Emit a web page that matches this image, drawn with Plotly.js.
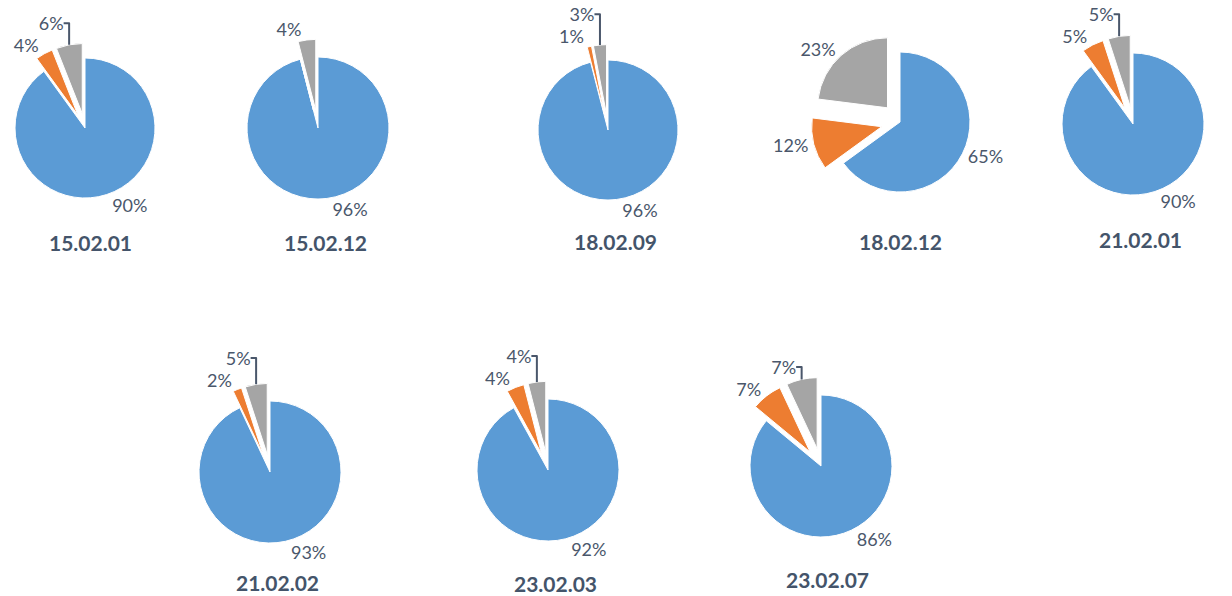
<!DOCTYPE html>
<html>
<head>
<meta charset="utf-8">
<script src="https://cdn.plot.ly/plotly-3.0.1.min.js"></script>
<style>html,body{margin:0;padding:0;background:#fff;}#chart{width:1232px;height:596px;}</style>
</head>
<body>
<div id="chart"></div>
<script>
// ---- data ----
var chartTitles = ["15.02.01", "15.02.12", "18.02.09", "18.02.12", "21.02.01", "21.02.02", "23.02.03", "23.02.07"];
var seriesBlue   = [90, 96, 96, 65, 90, 93, 92, 86];
var seriesOrange = [4, 0, 1, 12, 5, 2, 4, 7];
var seriesGray   = [6, 4, 3, 23, 5, 5, 4, 7];

// ---- layout (pixel positions: center x, center y, radius, pull) ----
var W = 1232, H = 596;
var pieGeom = [
  [85, 128, 70, 0.21],
  [318, 128, 71, 0.25],
  [608, 130, 70, 0.22],
  [900, 122, 70, 0.27],
  [1133, 124, 71, 0.25],
  [270, 472, 71, 0.25],
  [548, 470, 71, 0.25],
  [821, 466, 71, 0.25]
];
var titlePos = [[90,243],[325,243],[615,241],[900,241],[1140,240],[277,582],[555,583],[827,579]];

var colors = ["#5B9BD5", "#ED7D31", "#A5A5A5"];
var traces = [];
var annotations = [];
for (var i = 0; i < chartTitles.length; i++) {
  var vals = [seriesBlue[i], seriesOrange[i], seriesGray[i]];
  var g = pieGeom[i];
  var p = g[3];
  var half = g[2] * (1 + p);
  traces.push({
    type: "pie",
    values: vals,
    labels: ["A", "B", "C"],
    sort: false,
    direction: "clockwise",
    rotation: 0,
    pull: [0, p, p],
    marker: {colors: colors, line: {color: "#ffffff", width: 1}},
    textposition: "outside",
    texttemplate: vals.map(function (v) { return v ? "%{value}%" : ""; }),
    textfont: {family: "Lato, sans-serif", size: 18, color: "#4a576b"},
    hoverinfo: "none",
    showlegend: false,
    domain: {
      x: [Math.max(0, (g[0] - half) / W), Math.min(1, (g[0] + half) / W)],
      y: [Math.max(0, 1 - (g[1] + half) / H), Math.min(1, 1 - (g[1] - half) / H)]
    }
  });
  annotations.push({
    text: "<b>" + chartTitles[i] + "</b>",
    x: titlePos[i][0] / W, y: 1 - titlePos[i][1] / H,
    xref: "paper", yref: "paper", xanchor: "center", yanchor: "middle",
    showarrow: false,
    font: {family: "Lato, sans-serif", size: 21, color: "#44546A"}
  });
}

Plotly.newPlot("chart", traces, {
  width: W, height: H,
  margin: {l: 0, r: 0, t: 0, b: 0},
  paper_bgcolor: "#ffffff",
  annotations: annotations
}, {displayModeBar: false, staticPlot: true});
</script>
</body>
</html>
